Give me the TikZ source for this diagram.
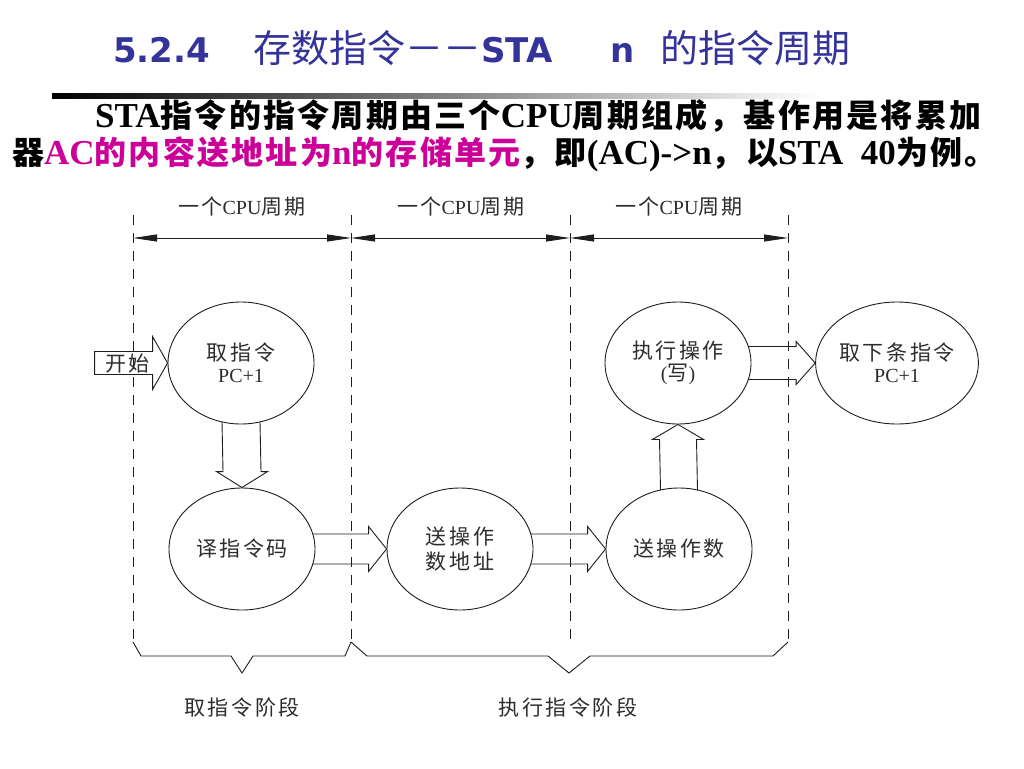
\documentclass[tikz,border=0pt]{standalone}
\usepackage{fontspec}
\usetikzlibrary{shapes.geometric,arrows.meta,calc}
\newfontfamily\cjkR{Noto Sans CJK SC}
\newfontfamily\cjkB[LetterSpace=7]{Noto Sans CJK SC}
\newfontfamily\cjkL[LetterSpace=12]{Noto Sans CJK SC}
\newfontfamily\serf{Liberation Serif}
\newfontfamily\sansd{DejaVu Sans}
\definecolor{titleblue}{RGB}{51,51,153}
\definecolor{magc}{RGB}{204,0,153}
\definecolor{ink}{RGB}{30,30,30}
\definecolor{txtc}{RGB}{45,45,45}
\newcommand\dglab{\cjkL\fontsize{21}{22}\selectfont}
\newcommand\dgser{\serf\fontsize{20}{22}\selectfont}
\newcommand\LbF{\serf\bfseries\fontsize{35}{38}\selectfont}
\newcommand\CbF{\cjkB\bfseries\fontsize{32}{38}\selectfont}
\newcommand\TlF{\sansd\bfseries\fontsize{34}{40}\selectfont}
\newcommand\TcF{\cjkR\fontsize{38}{40}\selectfont}
\begin{document}
\begin{tikzpicture}[x=1pt,y=-1pt,
  st/.style={ellipse, draw=ink, line width=0.9pt, minimum width=146pt, minimum height=122pt, inner sep=0pt, align=center, text=txtc, font=\dglab},
  blk/.style={draw=ink, line width=0.9pt, line join=miter},
  dsh/.style={draw=ink, line width=0.9pt, dash pattern=on 10pt off 8pt},
  dimln/.style={draw=ink, line width=0.9pt, {Triangle[length=24pt,width=7pt]}-{Triangle[length=24pt,width=7pt]}},
  brc/.style={draw=ink, line width=0.9pt, line join=miter},
  lbl/.style={text=txtc, font=\dglab, inner sep=0pt}]
\useasboundingbox (0,0) rectangle (1024,768);
\fill[white] (0,0) rectangle (1024,768);

% title
\node[anchor=base west, inner sep=0pt, text=titleblue] (t1) at (113,63) {\TlF 5.2.4};
\node[anchor=base west, inner sep=0pt, text=titleblue] (t2) at (253,63) {\TcF 存数指令－－\TlF STA};
\node[anchor=base west, inner sep=0pt, text=titleblue] (t3) at (610,63) {\TlF n};
\node[anchor=base west, inner sep=0pt, text=titleblue] (t4) at (660,63) {\TcF 的指令周期};

% gradient bar
\shade[left color=black, right color=white] (52,93) rectangle (820,98);

% body text
\node[anchor=base west, inner sep=0pt] (b1) at (95,127) {\LbF STA\CbF 指令的指令周期由三个\LbF CPU\CbF 周期组成，基作用是将累加};
\node[anchor=base west, inner sep=0pt] (b2) at (12,164) {\CbF 器{\color{magc}\LbF AC\CbF 的内容送地址为\LbF n\CbF 的存储单元}，即\LbF (AC)->n\CbF ，以\LbF STA\ \ 40\CbF 为例。};

% dashed verticals
\coordinate (v0t) at (133,215); \coordinate (v0b) at (133,642);
\coordinate (v1t) at (351,215); \coordinate (v1b) at (351,642);
\coordinate (v2t) at (570,215); \coordinate (v2b) at (570,642);
\coordinate (v3t) at (788,215); \coordinate (v3b) at (788,642);
\draw[dsh] (v0t) -- (v0b);
\draw[dsh] (v1t) -- (v1b);
\draw[dsh] (v2t) -- (v2b);
\draw[dsh] (v3t) -- (v3b);

% dimension lines
\coordinate (d0) at (133,238); \coordinate (d1) at (351,238);
\coordinate (d2) at (570,238); \coordinate (d3) at (788,238);
\draw[dimln] (d0) -- (d1);
\draw[dimln] (d1) -- (d2);
\draw[dimln] (d2) -- (d3);
\node[lbl] (c1) at (242,207) {一个{\dgser CPU}周期};
\node[lbl] (c2) at (461,207) {一个{\dgser CPU}周期};
\node[lbl] (c3) at (679,207) {一个{\dgser CPU}周期};

% states
\node[st] (fetch) at (241,363) {取指令\\{\dgser PC+1}};
\node[st] (dec) at (242,549) {译指令码};
\node[st] (addr) at (460,549) {送操作\\[3pt]数地址};
\node[st] (opnd) at (679,549) {送操作数};
\node[st] (exec) at (678,363) {执行操作\\{\dgser(}写{\dgser)}};
\node[st] (next) at (897,363) {取下条指令\\{\dgser PC+1}};

% start arrow
\draw[blk] ($(fetch.west)+(-73,-11.5)$) -- ($(fetch.west)+(-15,-11.5)$) -- ($(fetch.west)+(-15,-26.5)$) -- (fetch.west) -- ($(fetch.west)+(-15,26.5)$) -- ($(fetch.west)+(-15,11.5)$) -- ($(fetch.west)+(-73,11.5)$) -- cycle;
\node[lbl] (start) at ($(fetch.west)+(-40,1)$) {开始};

% fetch -> decode (down)
\draw[blk] ($(fetch.center)+(-19,58.5)$) -- ($(dec.north)+(-19,-16)$) -- ($(dec.north)+(-25.5,-16)$) -- (dec.north) -- ($(dec.north)+(25.5,-16)$) -- ($(dec.north)+(19,-16)$) -- ($(fetch.center)+(19,58.5)$);

% decode -> addr
\draw[blk] ($(dec.center)+(70.8,-15)$) -- ($(addr.west)+(-18,-15)$) -- ($(addr.west)+(-18,-22.5)$) -- (addr.west) -- ($(addr.west)+(-18,22.5)$) -- ($(addr.west)+(-18,15)$) -- ($(dec.center)+(70.8,15)$);

% addr -> operand
\draw[blk] ($(addr.center)+(70.8,-15)$) -- ($(opnd.west)+(-18,-15)$) -- ($(opnd.west)+(-18,-22.5)$) -- (opnd.west) -- ($(opnd.west)+(-18,22.5)$) -- ($(opnd.west)+(-18,15)$) -- ($(addr.center)+(70.8,15)$);

% operand -> exec (up)
\draw[blk] ($(opnd.center)+(-18.5,-58.7)$) -- ($(exec.south)+(-18.5,15)$) -- ($(exec.south)+(-25.5,15)$) -- (exec.south) -- ($(exec.south)+(25.5,15)$) -- ($(exec.south)+(18.5,15)$) -- ($(opnd.center)+(18.5,-58.7)$);

% exec -> next
\draw[blk] ($(exec.center)+(70.3,-16.5)$) -- ($(next.west)+(-19,-16.5)$) -- ($(next.west)+(-19,-21.5)$) -- (next.west) -- ($(next.west)+(-19,21.5)$) -- ($(next.west)+(-19,16.5)$) -- ($(exec.center)+(70.3,16.5)$);

% braces
\draw[brc] (v0b) -- (141,656) -- (231,656) -- (242,673) -- (253,656) -- (345,656) -- (v1b);
\draw[brc] (v1b) -- (367,656) -- (548,656) -- (569,673) -- (590,656) -- (773,656) -- (v3b);
\node[lbl] (ph1) at (242,707) {取指令阶段};
\node[lbl] (ph2) at (568,707) {执行指令阶段};
\end{tikzpicture}
\end{document}
